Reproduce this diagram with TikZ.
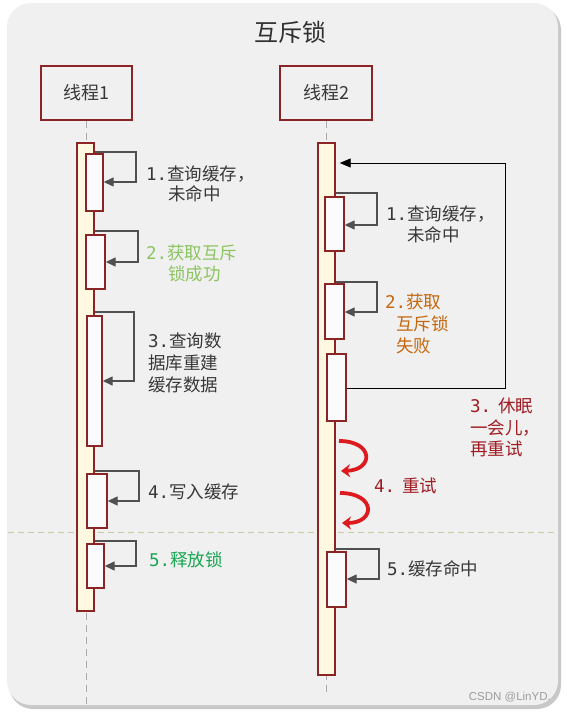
\documentclass[tikz,border=0pt]{standalone}
\usepackage{fontspec}
\setmainfont{Noto Sans CJK SC}
\newfontfamily\monof{DejaVu Sans Mono}
\newfontfamily\latinf{Liberation Sans}
\usetikzlibrary{arrows.meta}
\definecolor{bgc}{HTML}{F0F0F0}
\definecolor{shadowc}{HTML}{C8C8C8}
\definecolor{titlec}{HTML}{303030}
\definecolor{darkred}{HTML}{8B2525}
\definecolor{barfill}{HTML}{FFF9E2}
\definecolor{boxfill}{HTML}{FBFBFD}
\definecolor{arrc}{HTML}{505050}
\definecolor{txtc}{HTML}{383838}
\definecolor{lgreen}{HTML}{8CC461}
\definecolor{dgreen}{HTML}{18A552}
\definecolor{orangec}{HTML}{C4670E}
\definecolor{redtxt}{HTML}{A01B22}
\definecolor{redarc}{HTML}{DC1A1F}
\definecolor{lifec}{HTML}{ABABAB}
\definecolor{sepc}{HTML}{C9C9A2}
\definecolor{wmc}{HTML}{9C9C9C}
\begin{document}
\begin{tikzpicture}[x=1pt,y=-1pt,
  thbox/.style={draw=darkred, line width=1.7pt, fill=bgc, inner sep=0pt, text=txtc, font=\fontsize{18}{22}\selectfont},
  bar/.style={draw=darkred, line width=1.4pt, fill=barfill, inner sep=0pt},
  actbox/.style={draw=darkred, line width=1.4pt, fill=boxfill, inner sep=0pt},
  selfarr/.style={draw=arrc, line width=1.4pt, -{Triangle[length=10pt,width=9pt]}},
  looparr/.style={draw=black, line width=0.9pt, -{Triangle[length=11pt,width=9pt]}, shorten >=4pt},
  redarr/.style={draw=redarc, line width=3.8pt, -{Stealth[length=9pt,width=13pt]}},
  lifeline/.style={draw=lifec, line width=1.3pt, dash pattern=on 7pt off 5pt},
  lbl/.style={anchor=west, inner sep=0pt, text=txtc, font=\fontsize{17.5}{21}\selectfont},
]
\useasboundingbox (0,0) rectangle (566,712);
\fill[white] (0,0) rectangle (566,712);
\fill[shadowc, rounded corners=24pt] (9,6) rectangle (561,709);
\fill[bgc, rounded corners=24pt] (7,3) rectangle (558,705);

% title
\node[text=titlec, font=\fontsize{24}{28}\selectfont] (title) at (290,32) {互斥锁};

% thread boxes
\node[thbox, minimum width=91pt, minimum height=54pt] (th1) at (86.8,93) {线程1};
\node[thbox, minimum width=92pt, minimum height=54pt] (th2) at (326.2,93) {线程2};

% lifelines
\coordinate (l1end) at (86.8,706);
\coordinate (l2end) at (326.2,696);
\draw[lifeline] (th1.south) -- (l1end);
\draw[lifeline] (th2.south) -- (l2end);

% separator
\draw[sepc, line width=1pt, dash pattern=on 6pt off 4pt] (8,532) -- (557,532);

% bars
\node[bar, minimum width=17pt, minimum height=468pt] (bar1) at (85.5,377) {};
\node[bar, minimum width=17pt, minimum height=532pt] (bar2) at (326.5,409) {};

% thread 1 activation boxes
\node[actbox, minimum width=17pt, minimum height=57pt] (a1) at (94.5,182.5) {};
\node[actbox, minimum width=19pt, minimum height=54pt] (a2) at (95.5,262) {};
\node[actbox, minimum width=15pt, minimum height=130pt] (a3) at (94.5,381) {};
\node[actbox, minimum width=20pt, minimum height=54pt] (a4) at (97,501) {};
\node[actbox, minimum width=17pt, minimum height=44pt] (a5) at (95.5,566) {};

% thread 2 activation boxes
\node[actbox, minimum width=19pt, minimum height=54pt] (b1) at (334.5,224) {};
\node[actbox, minimum width=19pt, minimum height=55pt] (b2) at (334.5,311.5) {};
\node[actbox, minimum width=19pt, minimum height=67pt] (b3) at (336.5,387.5) {};
\node[actbox, minimum width=19pt, minimum height=55pt] (b5) at (336.5,579.5) {};

% self arrows thread 1
\draw[selfarr] (bar1.east |- 0,152) -- (136,152) |- (a1.east |- 0,182);
\draw[selfarr] (bar1.east |- 0,231) -- (138,231) |- (a2.east |- 0,262);
\draw[selfarr] (bar1.east |- 0,312) -- (134,312) |- (a3.east |- 0,381);
\draw[selfarr] (bar1.east |- 0,471) -- (139,471) |- (a4.east |- 0,501);
\draw[selfarr] (bar1.east |- 0,541) -- (136,541) |- (a5.east |- 0,566);

% self arrows thread 2
\draw[selfarr] (bar2.east |- 0,193) -- (377,193) |- (b1.east |- 0,225);
\draw[selfarr] (bar2.east |- 0,282) -- (377,282) |- (b2.east |- 0,312);
\draw[selfarr] (bar2.east |- 0,549) -- (379,549) |- (b5.east |- 0,579);

% loop back arrow
\draw[looparr] (b3.east |- 0,388) -- (505,388) |- (bar2.east |- 0,163);

% red retry arrows
\coordinate (r1s) at (339,441);
\coordinate (r1e) at (341,471);
\coordinate (r2s) at (340,493);
\coordinate (r2e) at (342,523);
\draw[redarr] (r1s) .. controls (374,441) and (374,470) .. (r1e);
\draw[redarr] (r2s) .. controls (376,493) and (376,523) .. (r2e);

% labels thread 1
\node[lbl] (t1a) at (146,174) {{\monof 1.}查询缓存，};
\node[lbl] (t1b) at (168,194) {未命中};
\node[lbl, text=lgreen] (t2a) at (146,253) {{\monof 2.}获取互斥};
\node[lbl, text=lgreen] (t2b) at (168,274) {锁成功};
\node[lbl] (t3a) at (148,341) {{\monof 3.}查询数};
\node[lbl] (t3b) at (148,363) {据库重建};
\node[lbl] (t3c) at (148,385) {缓存数据};
\node[lbl] (t4) at (148,492) {{\monof 4.}写入缓存};
\node[lbl, text=dgreen] (t5) at (149,560) {{\monof 5.}释放锁};

% labels thread 2
\node[lbl] (u1a) at (386,214) {{\monof 1.}查询缓存，};
\node[lbl] (u1b) at (407,235) {未命中};
\node[lbl, text=orangec] (u2a) at (385,302) {{\monof 2.}获取};
\node[lbl, text=orangec] (u2b) at (396,324) {互斥锁};
\node[lbl, text=orangec] (u2c) at (396,346) {失败};
\node[lbl, text=redtxt] (u3a) at (470,406) {{\monof 3.}\hspace{7pt}休眠};
\node[lbl, text=redtxt] (u3b) at (470,428) {一会儿，};
\node[lbl, text=redtxt] (u3c) at (470,449) {再重试};
\node[lbl, text=redtxt] (u4) at (374,486) {{\monof 4.}\hspace{7pt}重试};
\node[lbl] (u5) at (387,569) {{\monof 5.}缓存命中};

% watermark
\node[anchor=east, inner sep=0pt, text=wmc, font=\latinf\fontsize{11.5}{13}\selectfont] (wm) at (551,697) {CSDN @LinYD.};
\end{tikzpicture}
\end{document}
